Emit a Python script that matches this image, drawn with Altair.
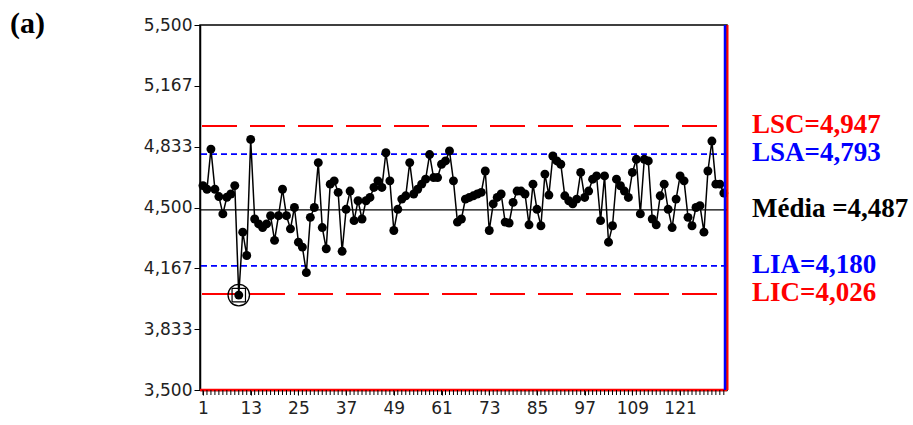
import altair as alt
import pandas as pd

# ---- data ----
values = [
    4.62, 4.60, 4.82, 4.60, 4.56, 4.465, 4.556, 4.574, 4.62, 4.02, 4.365, 4.237, 4.873,
    4.437, 4.41, 4.39, 4.41, 4.455, 4.32, 4.455, 4.60, 4.455, 4.383, 4.50, 4.31, 4.283, 4.143,
    4.446, 4.50, 4.746, 4.39, 4.274, 4.628, 4.646, 4.583, 4.26, 4.49, 4.59, 4.428, 4.537,
    4.437, 4.537, 4.555, 4.61, 4.646, 4.61, 4.80, 4.646, 4.374, 4.49, 4.546, 4.564, 4.746,
    4.574, 4.60, 4.628, 4.655, 4.79, 4.664, 4.664, 4.737, 4.755, 4.81, 4.646, 4.42, 4.437,
    4.546, 4.555, 4.564, 4.574, 4.583, 4.70, 4.374, 4.52, 4.555, 4.574, 4.42, 4.415, 4.528,
    4.59, 4.59, 4.574, 4.405, 4.628, 4.49, 4.40, 4.683, 4.568, 4.782, 4.755, 4.737, 4.564,
    4.537, 4.52, 4.546, 4.692, 4.555, 4.59, 4.655, 4.673, 4.428, 4.673, 4.31, 4.40, 4.655,
    4.619, 4.59, 4.555, 4.692, 4.764, 4.465, 4.764, 4.755, 4.437, 4.405, 4.564, 4.628, 4.49,
    4.39, 4.546, 4.673, 4.646, 4.446, 4.40, 4.50, 4.51, 4.365, 4.70, 4.864, 4.628, 4.628, 4.579,
]
index = list(range(1, len(values) + 1))

flag_index = [10]
flag_value = [4.02]

lim_values = [4.947, 4.793, 4.487, 4.180, 4.026]
lim_labels = ["LSC=4,947", "LSA=4,793", "Média =4,487", "LIA=4,180", "LIC=4,026"]
lim_colors = ["#FF0000", "#0000FF", "#000000", "#0000FF", "#FF0000"]

y_ticks = [3.5, 3.8333, 4.1667, 4.5, 4.8333, 5.1667, 5.5]
x_labels = [1, 13, 25, 37, 49, 61, 73, 85, 97, 109, 121]
x_minor = list(range(1, 133))

panel_label = ["(a)"]

# ---- chart ----
W, H = 527, 365
xs = alt.Scale(domain=[0.25, 132.8], nice=False, zero=False)
ys = alt.Scale(domain=[3.5, 5.5], nice=False, zero=False)

df = pd.DataFrame({"i": index, "v": values})

x_axis = alt.Axis(
    values=x_labels,
    labelOverlap=False,
    tickSize=5,
    labelPadding=5,
    labelFontSize=17,
    title=None,
    grid=False,
)
y_axis = alt.Axis(
    values=y_ticks,
    labelExpr="replace(format(datum.value, '.3f'), '.', ',')",
    tickSize=6,
    labelPadding=2,
    labelFontSize=17,
    title=None,
    grid=False,
)

line = alt.Chart(df).mark_line(color="black", strokeWidth=1.5).encode(
    x=alt.X("i:Q", scale=xs, axis=x_axis),
    y=alt.Y("v:Q", scale=ys, axis=y_axis),
)

pts = alt.Chart(df).mark_circle(color="black", size=80, opacity=1).encode(
    x=alt.X("i:Q", scale=xs),
    y=alt.Y("v:Q", scale=ys),
)

minor = alt.Chart(pd.DataFrame({"i": x_minor})).mark_rule(color="black", strokeWidth=1).encode(
    x=alt.X("i:Q", scale=xs),
    y=alt.value(H),
    y2=alt.value(H + 5),
)

def hline(val, color, dash, width, offset=0):
    d = pd.DataFrame({"v": [val]})
    kw = dict(color=color, strokeWidth=width)
    if dash:
        kw["strokeDash"] = dash
        kw["strokeDashOffset"] = offset
    return alt.Chart(d).mark_rule(**kw).encode(y=alt.Y("v:Q", scale=ys))

lsc = hline(lim_values[0], "#FF0000", [35, 13], 2, 38)
lsa = hline(lim_values[1], "#0000FF", [6, 4], 1.8)
mid = hline(lim_values[2], "#000000", None, 1.3)
lia = hline(lim_values[3], "#0000FF", [6, 4], 1.8)
lic = hline(lim_values[4], "#FF0000", [35, 13], 2, 38)

bottom_red = hline(3.5, "#FF0000", None, 2.5)

edge_df = pd.DataFrame({"k": [0]})
right_blue = alt.Chart(edge_df).mark_rule(color="#0000FF", strokeWidth=2.5).encode(
    x=alt.value(W - 2), y=alt.value(0), y2=alt.value(H)
)
right_red = alt.Chart(edge_df).mark_rule(color="#FF0000", strokeWidth=2).encode(
    x=alt.value(W + 0.5), y=alt.value(0), y2=alt.value(H)
)

flag_df = pd.DataFrame({"i": flag_index, "v": flag_value})
ring1 = alt.Chart(flag_df).mark_point(shape="circle", filled=False, color="black",
                                       size=460, strokeWidth=1.3, opacity=1).encode(
    x=alt.X("i:Q", scale=xs), y=alt.Y("v:Q", scale=ys))
ring2 = alt.Chart(flag_df).mark_point(shape="square", filled=False, color="black",
                                       size=180, strokeWidth=1.2, opacity=1).encode(
    x=alt.X("i:Q", scale=xs), y=alt.Y("v:Q", scale=ys))

lab_df = pd.DataFrame({"v": lim_values, "t": lim_labels, "c": lim_colors})
labels = alt.Chart(lab_df).mark_text(
    align="left", baseline="middle", font="Liberation Serif", fontWeight="bold",
    fontSize=27, dy=-1,
).encode(
    x=alt.value(552),
    y=alt.Y("v:Q", scale=ys),
    text="t:N",
    color=alt.Color("c:N", scale=None),
)

panel = alt.Chart(pd.DataFrame({"t": panel_label})).mark_text(
    align="left", baseline="middle", font="Liberation Serif", fontWeight="bold",
    fontSize=30, color="black",
).encode(x=alt.value(-190), y=alt.value(-1), text="t:N")

chart = alt.layer(
    lsc, lsa, mid, lia, lic, bottom_red, minor, line, pts, ring1, ring2,
    right_blue, right_red, labels, panel,
).properties(
    width=W, height=H,
    padding={"left": 200, "top": 25, "right": 186, "bottom": 35},
    autosize=alt.AutoSizeParams(type="none"),
    background="white",
).configure_view(
    stroke="black", strokeWidth=1.5
).configure_axis(
    labelFont="DejaVu Sans", labelColor="#222222",
    domainColor="black", tickColor="black", domainWidth=1.5,
)

chart.save("out.html", embed_options={"renderer": "svg", "actions": False})
